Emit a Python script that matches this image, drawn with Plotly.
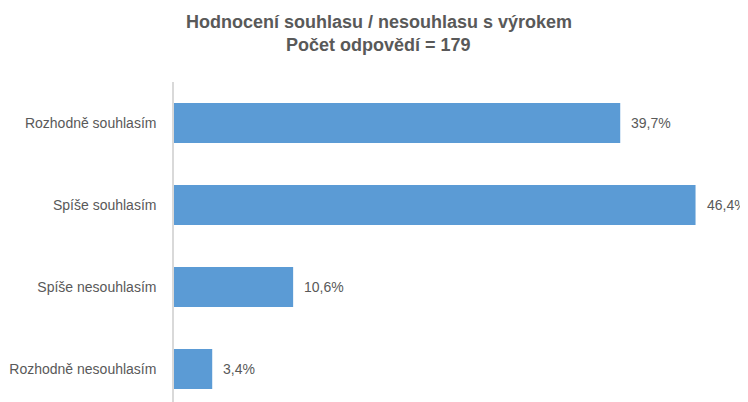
import plotly.graph_objects as go

categories = ["Rozhodně souhlasím", "Spíše souhlasím", "Spíše nesouhlasím", "Rozhodně nesouhlasím"]
values = [39.7, 46.4, 10.6, 3.4]
title_lines = ["Hodnocení souhlasu / nesouhlasu s výrokem", "Počet odpovědí = 179"]

labels = [f"{v:.1f}".replace(".", ",") + "%" for v in values]
FONT = "Liberation Sans, Arial, sans-serif"
GRAY = "#595959"

fig = go.Figure(go.Bar(
    x=values, y=categories, orientation="h",
    marker=dict(color="#5B9BD5", line=dict(width=0)),
    width=0.49,
    hoverinfo="skip",
))

annotations = []
for v, cat, lab in zip(values, categories, labels):
    annotations.append(dict(
        x=v, y=cat, xref="x", yref="y", text=lab, showarrow=False,
        xanchor="left", yanchor="middle", xshift=9,
        font=dict(family=FONT, size=14, color=GRAY),
    ))
for i, (line, shift) in enumerate(zip(title_lines, [60, 37])):
    annotations.append(dict(
        x=0.364, y=1, xref="paper", yref="paper", text="<b>" + line + "</b>",
        showarrow=False, xanchor="center", yanchor="middle", yshift=shift,
        font=dict(family=FONT, size=18, color=GRAY),
    ))

# page body has an 8px margin, so the figure is sized to fit the 748x402 window
fig.update_layout(
    width=740, height=394,
    margin=dict(l=166, r=11.5, t=74, b=0, autoexpand=False),
    paper_bgcolor="white", plot_bgcolor="white",
    showlegend=False,
    annotations=annotations,
    xaxis=dict(range=[0, 50], visible=False, showgrid=False, zeroline=False, automargin=False),
    yaxis=dict(
        type="category", range=[3.402, -0.5], automargin=False,
        showline=True, linecolor="#D9D9D9", linewidth=1.5,
        ticks="", ticklabelstandoff=13, showgrid=False, zeroline=False,
        tickfont=dict(family=FONT, size=14, color=GRAY),
    ),
)

fig.write_html("out.html")
